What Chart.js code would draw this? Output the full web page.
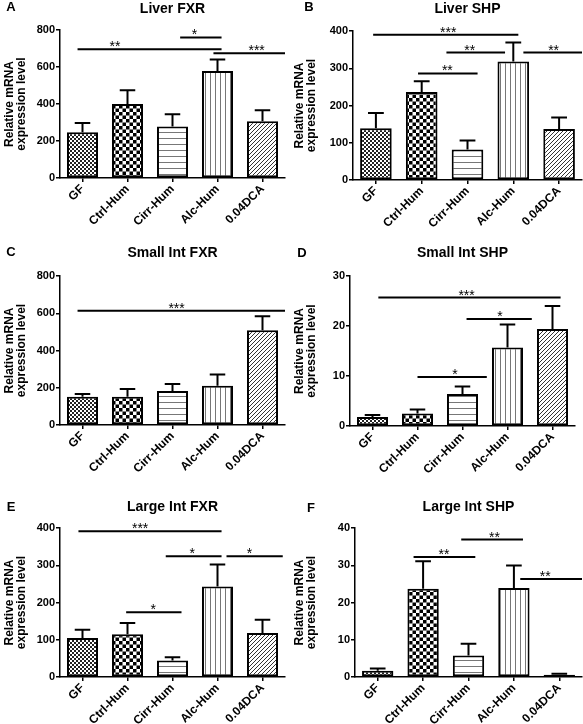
<!DOCTYPE html>
<html>
<head>
<meta charset="utf-8">
<script src="https://cdn.jsdelivr.net/npm/chart.js@4"></script>
<style>
    body { margin: 0; background: #fff; }
    #wrap { position: relative; width: 583px; height: 724px; }
    .panel { position: absolute; }
</style>
</head>
<body>
<div id="wrap"></div>
<script>
const categories = ['GF', 'Ctrl-Hum', 'Cirr-Hum', 'Alc-Hum', '0.04DCA'];

// mean and SEM
const liverFxrMean = [247, 400, 279, 578, 307];
const liverFxrSem = [50, 74, 65, 62, 59];
const liverShpMean = [139, 236, 82, 318, 137];
const liverShpSem = [41, 29, 24, 51, 31];
const smallFxrMean = [152, 152, 182, 211, 509];
const smallFxrSem = [14, 41, 38, 60, 75];
const smallShpMean = [1.8, 2.5, 6.4, 15.7, 19.4];
const smallShpSem = [0.4, 0.8, 1.5, 4.6, 4.6];
const largeFxrMean = [105, 115, 44, 243, 118];
const largeFxrSem = [22, 30, 9, 59, 36];
const largeShpMean = [1.7, 23.7, 5.8, 23.9, 0.6];
const largeShpSem = [0.6, 7.4, 3.1, 6.0, 0.3];

// y axis: [max, step]
const liverFxrAxis = [800, 200];
const liverShpAxis = [400, 100];
const smallFxrAxis = [800, 200];
const smallShpAxis = [30, 10];
const largeFxrAxis = [400, 100];
const largeShpAxis = [40, 10];

// significance bars: [from category, to category, y value, stars, stars at category]
const liverFxrSig = [[-0.11, 3.09, 696, '**', 0.72], [2.17, 3.09, 760, '*', 2.49], [2.91, 4.5, 674, '***', 3.87]];
const liverShpSig = [[-0.06, 3.11, 390, '***', 1.58], [1.54, 2.82, 342, '**', 2.05], [3.22, 4.5, 342, '**', 3.88], [0.92, 2.22, 286, '**', 1.56]];
const smallFxrSig = [[-0.11, 4.5, 614, '***', 2.09]];
const smallShpSig = [[0.13, 4.18, 25.7, '***', 2.09], [2.09, 3.54, 21.4, '*', 2.83], [1.0, 2.54, 9.8, '*', 1.83]];
const largeFxrSig = [[-0.09, 3.09, 391, '***', 1.28], [1.85, 3.09, 324, '*', 2.44], [3.2, 4.45, 324, '*', 3.71], [0.97, 2.2, 174, '*', 1.57]];
const largeShpSig = [[0.79, 2.15, 32.2, '**', 1.46], [1.84, 3.2, 36.9, '**', 2.57], [3.14, 4.5, 26.3, '**', 3.69]];

const FONT = '"Liberation Sans", Arial, sans-serif';

// bar fill patterns (GraphPad style)
function makePattern(kind) {
    const c = document.createElement('canvas');
    const g = c.getContext('2d');
    if (kind === 'fine') {
        c.width = 4; c.height = 4;
        g.fillStyle = '#fff'; g.fillRect(0, 0, 4, 4);
        g.fillStyle = '#222'; g.fillRect(0, 0, 2, 2); g.fillRect(2, 2, 2, 2);
    } else if (kind === 'check') {
        c.width = 7; c.height = 7;
        g.fillStyle = '#fff'; g.fillRect(0, 0, 7, 7);
        g.fillStyle = '#000'; g.fillRect(0, 0, 3.5, 3.5); g.fillRect(3.5, 3.5, 3.5, 3.5);
    } else if (kind === 'hlines') {
        c.width = 4; c.height = 6;
        g.fillStyle = '#fff'; g.fillRect(0, 0, 4, 6);
        g.fillStyle = '#777'; g.fillRect(0, 0, 4, 1);
    } else if (kind === 'vlines') {
        c.width = 5; c.height = 4;
        g.fillStyle = '#fff'; g.fillRect(0, 0, 5, 4);
        g.fillStyle = '#777'; g.fillRect(0, 0, 1, 4);
    } else {
        c.width = 4; c.height = 4;
        g.fillStyle = '#fff'; g.fillRect(0, 0, 4, 4);
        g.fillStyle = '#333';
        for (let i = 0; i < 4; i++) g.fillRect(i, 3 - i, 1, 1);
    }
    return g.createPattern(c, 'repeat');
}

const barFills = ['fine', 'check', 'hlines', 'vlines', 'diag'].map(makePattern);

// error bars, significance lines, title and panel letter
const extrasPlugin = {
    id: 'extras',
    afterDatasetsDraw(chart) {
        const ctx = chart.ctx;
        const ys = chart.scales.y;
        const sem = chart.options.plugins.extras.sem;
        const mean = chart.data.datasets[0].data;
        const meta = chart.getDatasetMeta(0);
        ctx.save();
        ctx.strokeStyle = '#000';
        ctx.lineWidth = 2;
        meta.data.forEach((bar, i) => {
            const yTop = ys.getPixelForValue(mean[i]);
            const yErr = ys.getPixelForValue(mean[i] + sem[i]);
            const half = bar.width / 4;
            ctx.beginPath();
            ctx.moveTo(bar.x, yTop);
            ctx.lineTo(bar.x, yErr);
            ctx.moveTo(bar.x - half, yErr);
            ctx.lineTo(bar.x + half, yErr);
            ctx.stroke();
        });
        ctx.restore();
    },
    afterDraw(chart) {
        const ctx = chart.ctx;
        const o = chart.options.plugins.extras;
        const xs = chart.scales.x;
        const ys = chart.scales.y;
        const p0 = xs.getPixelForValue(0);
        const p1 = xs.getPixelForValue(1);
        const px = f => p0 + f * (p1 - p0);
        ctx.save();
        ctx.strokeStyle = '#000';
        ctx.fillStyle = '#000';
        ctx.lineWidth = 2;
        ctx.textAlign = 'center';
        ctx.textBaseline = 'alphabetic';
        ctx.font = '14px ' + FONT;
        o.sig.forEach(s => {
            const y = ys.getPixelForValue(s[2]);
            ctx.beginPath();
            ctx.moveTo(px(s[0]), y);
            ctx.lineTo(px(s[1]), y);
            ctx.stroke();
            ctx.fillText(s[3], px(s[4]), y + 2);
        });
        const area = chart.chartArea;
        ctx.textBaseline = 'middle';
        ctx.font = 'bold 14px ' + FONT;
        ctx.fillText(o.title, (area.left + area.right) / 2, o.titleY);
        ctx.font = 'bold 13px ' + FONT;
        ctx.fillText(o.letter, o.letterX, o.letterY);
        ctx.restore();
    }
};

function makePanel(p) {
    const div = document.createElement('div');
    div.className = 'panel';
    div.style.left = p.left + 'px';
    div.style.top = p.top + 'px';
    const canvas = document.createElement('canvas');
    canvas.width = p.w;
    canvas.height = p.h;
    div.appendChild(canvas);
    document.getElementById('wrap').appendChild(div);

    new Chart(canvas.getContext('2d'), {
        type: 'bar',
        data: {
            labels: categories,
            datasets: [{
                data: p.mean,
                backgroundColor: barFills,
                borderColor: '#000',
                borderWidth: 2,
                borderSkipped: false,
                barPercentage: 0.69,
                categoryPercentage: 1
            }]
        },
        options: {
            responsive: false,
            animation: false,
            devicePixelRatio: 1,
            layout: {
                padding: { left: 0, top: p.area[2], right: p.w - p.area[1], bottom: 0 }
            },
            scales: {
                x: {
                    grid: { display: true, drawOnChartArea: false, offset: false, color: '#000', lineWidth: 1.5, tickLength: 4 },
                    border: { color: '#000', width: 1.5 },
                    ticks: {
                        color: '#000', autoSkip: false, minRotation: 45, maxRotation: 45, padding: 0,
                        font: { family: FONT, size: 12, weight: 'bold' }
                    },
                    afterFit: s => { s.height = p.h - p.area[3]; }
                },
                y: {
                    min: 0,
                    max: p.axis[0],
                    grid: { display: true, drawOnChartArea: false, color: '#000', lineWidth: 1.5, tickLength: 4 },
                    border: { color: '#000', width: 1.5 },
                    ticks: {
                        stepSize: p.axis[1], color: '#000', padding: 1,
                        font: { family: FONT, size: 11, weight: 'bold' }
                    },
                    title: {
                        display: true,
                        text: ['Relative mRNA', 'expression level'],
                        color: '#000',
                        padding: { top: 4, bottom: 0 },
                        font: { family: FONT, size: 12, weight: 'bold', lineHeight: 1.0 }
                    },
                    afterFit: s => { s.width = p.area[0]; }
                }
            },
            plugins: {
                legend: { display: false },
                tooltip: { enabled: false },
                extras: {
                    sem: p.sem, sig: p.sig, title: p.title,
                    titleY: p.titleY, letter: p.letter, letterX: p.letterX, letterY: p.letterY
                }
            }
        },
        plugins: [extrasPlugin]
    });
}

// area: [left, right, top, bottom] in canvas pixels
makePanel({ left: 0, top: 0, w: 290, h: 240, area: [60, 285, 30, 178], mean: liverFxrMean, sem: liverFxrSem,
    axis: liverFxrAxis, sig: liverFxrSig, title: 'Liver FXR', titleY: 9, letter: 'A', letterX: 11, letterY: 7 });
makePanel({ left: 290, top: 0, w: 293, h: 240, area: [63, 292, 31, 180], mean: liverShpMean, sem: liverShpSem,
    axis: liverShpAxis, sig: liverShpSig, title: 'Liver SHP', titleY: 9, letter: 'B', letterX: 19, letterY: 7 });
makePanel({ left: 0, top: 240, w: 290, h: 240, area: [60, 285, 36, 185], mean: smallFxrMean, sem: smallFxrSem,
    axis: smallFxrAxis, sig: smallFxrSig, title: 'Small Int FXR', titleY: 13, letter: 'C', letterX: 11, letterY: 12 });
makePanel({ left: 290, top: 240, w: 293, h: 240, area: [60, 285, 36, 186], mean: smallShpMean, sem: smallShpSem,
    axis: smallShpAxis, sig: smallShpSig, title: 'Small Int SHP', titleY: 13, letter: 'D', letterX: 12, letterY: 13 });
makePanel({ left: 0, top: 480, w: 290, h: 244, area: [60, 285, 48, 197], mean: largeFxrMean, sem: largeFxrSem,
    axis: largeFxrAxis, sig: largeFxrSig, title: 'Large Int FXR', titleY: 27, letter: 'E', letterX: 11, letterY: 27 });
makePanel({ left: 290, top: 480, w: 293, h: 244, area: [65, 292, 48, 197], mean: largeShpMean, sem: largeShpSem,
    axis: largeShpAxis, sig: largeShpSig, title: 'Large Int SHP', titleY: 27, letter: 'F', letterX: 21, letterY: 28 });
</script>
</body>
</html>
